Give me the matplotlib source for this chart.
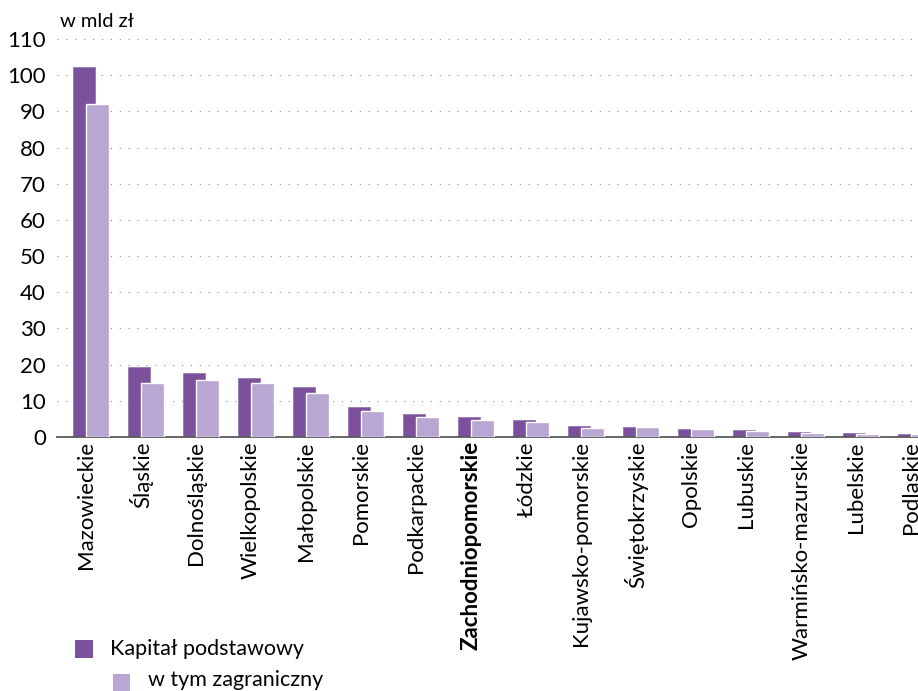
import matplotlib
matplotlib.use("Agg")
import matplotlib.pyplot as plt
import matplotlib.transforms as mtransforms
from matplotlib.patches import Rectangle
import numpy as np

plt.rcParams['font.family'] = ['Lato', 'DejaVu Sans']

regions = ["Mazowieckie", "Śląskie", "Dolnośląskie", "Wielkopolskie", "Małopolskie",
           "Pomorskie", "Podkarpackie", "Zachodniopomorskie", "Łódzkie",
           "Kujawsko-pomorskie", "Świętokrzyskie", "Opolskie", "Lubuskie",
           "Warmińsko-mazurskie", "Lubelskie", "Podlaskie"]
kapital = [102.2, 19.4, 17.8, 16.4, 13.7, 8.4, 6.4, 5.4, 4.6, 3.0, 2.9, 2.1, 1.8, 1.3, 1.0, 0.9]
zagraniczny = [92.0, 15.0, 15.7, 15.0, 12.1, 7.3, 5.4, 4.7, 4.2, 2.5, 2.8, 2.1, 1.7, 1.2, 0.95, 0.8]
yticks = list(range(0, 111, 10))

dark = "#7B519D"
light = "#B9A6D2"

W, H = 918, 691
fig = plt.figure(figsize=(W / 100, H / 100), dpi=100)
# axis runs past the right edge, last label is cut off like in the original
x0, x1 = 57, 949
y0, y1 = 437, 39
ax = fig.add_axes([x0 / W, 1 - y0 / H, (x1 - x0) / W, (y0 - y1) / H])

x = np.arange(len(regions))
ax.bar(x - 0.123, kapital, width=0.40, color=dark, edgecolor="#9478B0", linewidth=0.6, zorder=2)
ax.bar(x + 0.123, zagraniczny, width=0.42, color=light, edgecolor="white", linewidth=1.0, zorder=3)

ax.set_xlim(-0.61, 15.6)
ax.set_ylim(0, 110)
ax.set_yticks(yticks)
ax.set_yticklabels([str(v) for v in yticks], fontsize=16)
ax.yaxis.grid(True, color="#8c8c8c", linestyle=(0, (1, 7)), linewidth=0.8)
ax.set_axisbelow(True)
ax.tick_params(axis="y", length=0, pad=8)

ax.set_xticks(x)
ax.set_xticklabels(regions, rotation=90, fontsize=16, va="top", ha="center")
ax.tick_params(axis="x", length=0, pad=3)
shift = mtransforms.ScaledTranslation(-0.045, 0, fig.dpi_scale_trans)
for lab in ax.get_xticklabels():
    lab.set_transform(lab.get_transform() + shift)
    if lab.get_text() == "Zachodniopomorskie":
        lab.set_fontweight("bold")

for s in ["top", "right", "left"]:
    ax.spines[s].set_visible(False)
ax.spines["bottom"].set_color("#595959")
ax.spines["bottom"].set_linewidth(1.3)

fig.text(60 / W, 1 - 27 / H, "w mld zł", fontsize=14.5, va="baseline", ha="left")

# legend, staggered as in the original
fig.patches.append(Rectangle((75 / W, 1 - 658 / H), 18 / W, 18 / H, transform=fig.transFigure,
                             facecolor=dark, edgecolor="none"))
fig.text(110 / W, 1 - 649 / H, "Kapitał podstawowy", fontsize=15.5, va="center", ha="left")
fig.patches.append(Rectangle((113 / W, 1 - 691 / H), 17 / W, 17 / H, transform=fig.transFigure,
                             facecolor=light, edgecolor="none"))
fig.text(148 / W, 1 - 680 / H, "w tym zagraniczny", fontsize=15.5, va="center", ha="left")

fig.savefig("out.png", dpi=100)
